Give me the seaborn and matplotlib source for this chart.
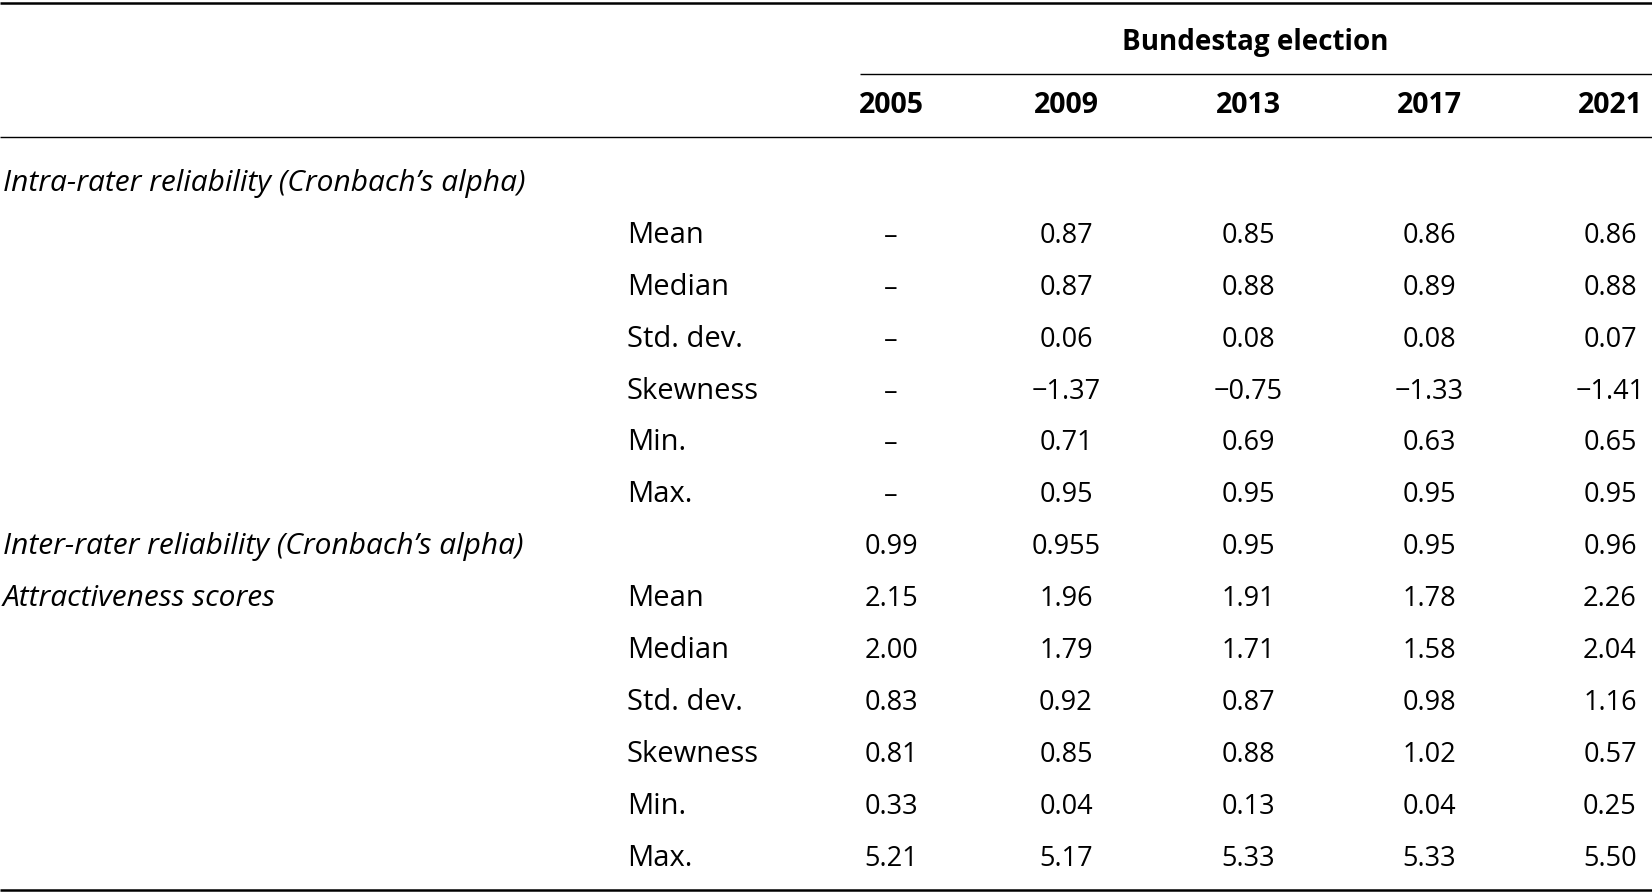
import numpy as np
import pandas as pd
import matplotlib
matplotlib.use("Agg")
import matplotlib.pyplot as plt
import seaborn as sns

# ---------------- data ----------------
years = ["2005", "2009", "2013", "2017", "2021"]
header_title = "Bundestag election"
section_intra = "Intra-rater reliability (Cronbach\u2019s alpha)"
section_inter = "Inter-rater reliability (Cronbach\u2019s alpha)"
section_attr = "Attractiveness scores"
stat_labels = ["Mean", "Median", "Std. dev.", "Skewness", "Min.", "Max."]

intra_mean = [np.nan, 0.87, 0.85, 0.86, 0.86]
intra_median = [np.nan, 0.87, 0.88, 0.89, 0.88]
intra_std = [np.nan, 0.06, 0.08, 0.08, 0.07]
intra_skew = [np.nan, -1.37, -0.75, -1.33, -1.41]
intra_min = [np.nan, 0.71, 0.69, 0.63, 0.65]
intra_max = [np.nan, 0.95, 0.95, 0.95, 0.95]

inter_alpha = [0.99, 0.955, 0.95, 0.95, 0.96]

attr_mean = [2.15, 1.96, 1.91, 1.78, 2.26]
attr_median = [2.00, 1.79, 1.71, 1.58, 2.04]
attr_std = [0.83, 0.92, 0.87, 0.98, 1.16]
attr_skew = [0.81, 0.85, 0.88, 1.02, 0.57]
attr_min = [0.33, 0.04, 0.13, 0.04, 0.25]
attr_max = [5.21, 5.17, 5.33, 5.33, 5.50]


def fmt(v):
    if v is None or (isinstance(v, float) and np.isnan(v)):
        return "\u2013"
    s = f"{abs(v):.2f}"
    if abs(float(s) - abs(v)) > 1e-9:
        s = f"{abs(v):.3f}"
    return ("\u2212" + s) if v < 0 else s


# rows: (section label, stat label, values)
rows = [(section_intra, "", None)]
for lab, vals in zip(stat_labels, [intra_mean, intra_median, intra_std,
                                   intra_skew, intra_min, intra_max]):
    rows.append(("", lab, vals))
rows.append((section_inter, "", inter_alpha))
attr_vals = [attr_mean, attr_median, attr_std, attr_skew, attr_min, attr_max]
for k, (lab, vals) in enumerate(zip(stat_labels, attr_vals)):
    rows.append((section_attr if k == 0 else "", lab, vals))

records = []
for r, (sec, lab, vals) in enumerate(rows):
    if vals is None:
        continue
    for c, (yr, v) in enumerate(zip(years, vals)):
        records.append({"row": r, "col": c, "year": yr, "text": fmt(v)})
df = pd.DataFrame(records)

# ---------------- style ----------------
sns.set_theme(style="white")
plt.rcParams["font.family"] = ["Open Sans", "DejaVu Sans"]
FS_NUM = 19.5
FS_YEAR = 20.5
FS_LAB = 21
FS_ITAL = 21.5
FS_HEAD = 20

W, H = 1652, 895
fig = plt.figure(figsize=(W / 100, H / 100), dpi=100)
ax = fig.add_axes([0, 0, 1, 1])

# layout: column centres (pixels) and row baselines (row index units)
col_px = [891, 1066, 1248, 1429, 1610]
y0_px, dy_px = 191.0, 51.9


def px2y(p):
    return (p - y0_px) / dy_px


ax.set_xlim(0, W)
ax.set_ylim(px2y(H), px2y(0))
ax.axis("off")

# header
ax.text(1255, px2y(50), header_title, ha="center", va="baseline",
        fontsize=FS_HEAD, fontweight="bold", color="black")
for c, yr in enumerate(years):
    ax.text(col_px[c], px2y(113), yr, ha="center", va="baseline",
            fontsize=FS_YEAR, fontweight="bold", color="black")

# rules
ax.plot([0, W], [px2y(3.5)] * 2, color="black", lw=1.8, solid_capstyle="butt")
ax.plot([860, W], [px2y(75)] * 2, color="black", lw=1.0, solid_capstyle="butt")
ax.plot([0, W], [px2y(138)] * 2, color="black", lw=1.0, solid_capstyle="butt")
ax.plot([0, W], [px2y(890.5)] * 2, color="black", lw=1.8,
        solid_capstyle="butt")

# row labels
for r, (sec, lab, vals) in enumerate(rows):
    if sec:
        ax.text(3, r, sec, ha="left", va="baseline", fontsize=FS_ITAL,
                fontstyle="italic", color="black")
    if lab:
        ax.text(627, r, lab, ha="left", va="baseline", fontsize=FS_LAB,
                color="black")

# cell values
for _, rec in df.iterrows():
    ax.text(col_px[rec["col"]], rec["row"], rec["text"], ha="center",
            va="baseline", fontsize=FS_NUM, color="black")

fig.savefig("out.png", dpi=100, facecolor="white")
